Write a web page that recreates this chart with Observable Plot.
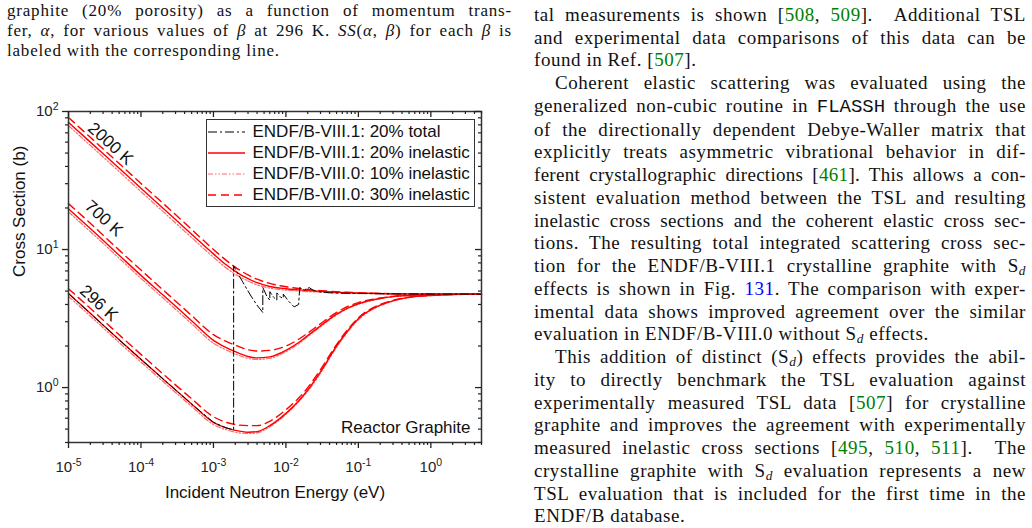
<!DOCTYPE html>
<html><head><meta charset="utf-8">
<script src="https://cdn.jsdelivr.net/npm/d3@7"></script>
<script src="https://cdn.jsdelivr.net/npm/@observablehq/plot@0.6"></script>
<style>
html,body{margin:0;padding:0;background:#fff;}
body{width:1032px;height:528px;overflow:hidden;position:relative;}
.serif{font-family:"Liberation Serif","DejaVu Serif",serif;color:#111;position:absolute;}
.j{text-align:justify;text-align-last:justify;}
.ind{text-indent:21px;}
.cite{color:#008000;}
.ref{color:#0000ff;}
sub{font-size:0.7em;line-height:0;vertical-align:-0.25em;}
.tt{font-family:"Liberation Mono","DejaVu Sans Mono",monospace;letter-spacing:0;}
.tight{letter-spacing:0.3px;}
#chart{position:absolute;left:0;top:75px;width:500px;height:440px;}
#legend{position:absolute;left:206px;top:119px;width:269px;height:88px;box-sizing:border-box;border:1.5px solid #333;background:#fff;font-family:"Liberation Sans",Arial,sans-serif;font-size:17px;color:#111;padding-top:1px;}
.row{height:21px;white-space:nowrap;display:flex;align-items:center;}
.row svg{width:37px;height:10px;margin-left:0.5px;margin-right:8px;flex:none;}
</style></head>
<body>
<div class="serif" style="left:7px;top:1.4px;width:505px;font-size:17px;line-height:20px;letter-spacing:0.8px">
<div class="j">graphite (20% porosity) as a function of momentum trans-</div>
<div class="j">fer, <i>α</i>, for various values of <i>β</i> at 296 K. <i>SS</i>(<i>α</i>, <i>β</i>) for each <i>β</i> is</div>
<div>labeled with the corresponding line.</div>
</div>

<div class="serif" style="left:534px;top:3.9px;width:492px;font-size:19px;line-height:22.75px;letter-spacing:0.55px">
<div class="j">tal measurements is shown [<span class="cite">508</span>, <span class="cite">509</span>]. &nbsp;Additional TSL</div>
<div class="j">and experimental data comparisons of this data can be</div>
<div>found in Ref. [<span class="cite">507</span>].</div>
<div class="j ind">Coherent elastic scattering was evaluated using the</div>
<div class="j">generalized non-cubic routine in <span class="tt">FLASSH</span> through the use</div>
<div class="j">of the directionally dependent Debye-Waller matrix that</div>
<div class="j">explicitly treats asymmetric vibrational behavior in dif-</div>
<div class="j tight">ferent crystallographic directions [<span class="cite">461</span>]. This allows a con-</div>
<div class="j">sistent evaluation method between the TSL and resulting</div>
<div class="j tight">inelastic cross sections and the coherent elastic cross sec-</div>
<div class="j">tions. The resulting total integrated scattering cross sec-</div>
<div class="j">tion for the ENDF/B-VIII.1 crystalline graphite with S<sub><i>d</i></sub></div>
<div class="j">effects is shown in Fig. <span class="ref">131</span>. The comparison with exper-</div>
<div class="j">imental data shows improved agreement over the similar</div>
<div>evaluation in ENDF/B-VIII.0 without S<sub><i>d</i></sub> effects.</div>
<div class="j ind">This addition of distinct (S<sub><i>d</i></sub>) effects provides the abil-</div>
<div class="j">ity to directly benchmark the TSL evaluation against</div>
<div class="j">experimentally measured TSL data [<span class="cite">507</span>] for crystalline</div>
<div class="j">graphite and improves the agreement with experimentally</div>
<div class="j">measured inelastic cross sections [<span class="cite">495</span>, <span class="cite">510</span>, <span class="cite">511</span>]. &nbsp;The</div>
<div class="j">crystalline graphite with S<sub><i>d</i></sub> evaluation represents a new</div>
<div class="j">TSL evaluation that is included for the first time in the</div>
<div>ENDF/B database.</div>
</div>

<div id="chart"></div>
<div id="legend"></div>

<script>
// ---------------- data ----------------
const energy = [1e-5, 2e-5, 5e-5, 1e-4, 2e-4, 5e-4, 1e-3, 1.5e-3, 2e-3, 3e-3, 4e-3, 6e-3, 1e-2, 1.5e-2, 2e-2, 3e-2, 5e-2, 7e-2, 0.1, 0.2, 0.3, 0.5, 1, 2, 5];

const sig296_20 = [4.8, 3.45, 2.22, 1.6, 1.16, 0.76, 0.56, 0.51, 0.49, 0.475, 0.48, 0.53, 0.65, 0.8, 0.96, 1.3, 2.0, 2.55, 3.15, 3.95, 4.25, 4.5, 4.65, 4.72, 4.75];
const sig296_30 = [5.2, 3.75, 2.41, 1.74, 1.26, 0.83, 0.615, 0.56, 0.54, 0.53, 0.53, 0.57, 0.69, 0.84, 1.0, 1.35, 2.05, 2.6, 3.2, 4.0, 4.28, 4.52, 4.66, 4.72, 4.75];
const sig296_10 = [4.58, 3.3, 2.12, 1.53, 1.11, 0.73, 0.54, 0.495, 0.475, 0.465, 0.47, 0.52, 0.64, 0.79, 0.94, 1.27, 1.96, 2.5, 3.1, 3.92, 4.23, 4.49, 4.64, 4.72, 4.75];

const sig700_20 = [19.7, 14.2, 9.1, 6.5, 4.7, 3.05, 2.2, 1.95, 1.82, 1.68, 1.64, 1.67, 1.86, 2.12, 2.38, 2.8, 3.4, 3.75, 4.05, 4.42, 4.56, 4.65, 4.71, 4.74, 4.75];
const sig700_30 = [21.5, 15.5, 9.9, 7.1, 5.12, 3.33, 2.42, 2.16, 2.03, 1.88, 1.84, 1.86, 2.0, 2.24, 2.48, 2.9, 3.5, 3.85, 4.12, 4.46, 4.58, 4.67, 4.72, 4.74, 4.75];
const sig700_10 = [18.7, 13.5, 8.65, 6.18, 4.47, 2.9, 2.1, 1.87, 1.75, 1.63, 1.6, 1.63, 1.82, 2.08, 2.34, 2.76, 3.36, 3.72, 4.02, 4.4, 4.55, 4.64, 4.7, 4.74, 4.75];

const sig2000_20 = [83.5, 60, 38.8, 27.8, 20.0, 12.9, 9.3, 7.75, 6.95, 6.15, 5.75, 5.4, 5.2, 5.1, 5.04, 4.98, 4.91, 4.87, 4.84, 4.8, 4.78, 4.77, 4.76, 4.75, 4.75];
const sig2000_30 = [90.5, 65, 42, 30.1, 21.7, 14.0, 10.0, 8.35, 7.45, 6.55, 6.1, 5.68, 5.38, 5.22, 5.13, 5.04, 4.95, 4.9, 4.86, 4.81, 4.79, 4.77, 4.76, 4.75, 4.75];
const sig2000_10 = [79, 56.8, 36.7, 26.3, 18.9, 12.2, 8.8, 7.35, 6.62, 5.92, 5.55, 5.25, 5.08, 5.0, 4.96, 4.92, 4.87, 4.85, 4.82, 4.79, 4.77, 4.76, 4.75, 4.75, 4.75];

const totalEnergy = [1e-5, 2e-5, 5e-5, 1e-4, 2e-4, 5e-4, 1e-3, 1.5e-3, 1.9e-3, 1.9e-3, 2.5e-3, 3.3e-3, 4.0e-3, 4.8e-3, 4.8e-3, 5.5e-3, 6.0e-3, 6.0e-3, 6.8e-3, 7.5e-3, 7.5e-3, 8.5e-3, 9.2e-3, 9.2e-3, 1.1e-2, 1.3e-2, 1.5e-2, 1.55e-2, 1.8e-2, 2.1e-2, 2.4e-2, 2.8e-2, 3.5e-2, 5e-2, 0.1, 0.3, 1, 5];
const totalSigma = [4.8, 3.45, 2.22, 1.6, 1.16, 0.76, 0.56, 0.51, 0.495, 7.6, 5.9, 4.6, 3.95, 3.5, 5.3, 4.55, 4.3, 4.95, 4.5, 4.3, 4.85, 4.5, 4.45, 4.75, 4.2, 3.84, 4.0, 5.3, 5.1, 5.3, 5.05, 4.95, 4.88, 4.83, 4.8, 4.77, 4.76, 4.75];

const tempLabels = ["2000 K", "700 K", "296 K"];
const tempLabelE = [3.8e-5, 3.07e-5, 2.62e-5];
const tempLabelS = [58.5, 16.8, 4.09];

const legendLabels = ["ENDF/B-VIII.1: 20% total", "ENDF/B-VIII.1: 20% inelastic", "ENDF/B-VIII.0: 10% inelastic", "ENDF/B-VIII.0: 30% inelastic"];

const xTicks = [1e-5, 1e-4, 1e-3, 1e-2, 1e-1, 1];
const yTicks = [1, 10, 100];
const xMinor = [];
for (let d = -5; d <= 0; d++) for (let m = 2; m <= 9; m++) { const v = m * Math.pow(10, d); if (v <= 5) xMinor.push(v); }
const yMinor = [];
for (let d = -1; d <= 1; d++) for (let m = 2; m <= 9; m++) { const v = m * Math.pow(10, d); if (v >= 0.4 && v < 100) yMinor.push(v); }

// ---------------- styles ----------------
const stTotal = {stroke: "#000", strokeWidth: 1, strokeDasharray: "9,3,2,3"};
const st20 = {stroke: "#ff0000", strokeWidth: 1.4};
const st10 = {stroke: "#ff6b6b", strokeWidth: 1.2, strokeDasharray: "5,2,1.5,2,1.5,2"};
const st30 = {stroke: "#ff0000", strokeWidth: 1.4, strokeDasharray: "8,5"};
const legendStyles = [stTotal, st20, st10, st30];

const fmt = d => "10^" + Math.round(Math.log10(d));
const blank = () => "";
const line = (ys, st) => Plot.line(energy, {x: energy, y: ys, curve: "monotone-x", ...st});

const chart = Plot.plot({
  width: 500, height: 440,
  marginLeft: 68, marginRight: 19, marginTop: 36, marginBottom: 73,
  x: {type: "log", domain: [1e-5, 5], label: null},
  y: {type: "log", domain: [0.4, 100], label: null},
  style: {fontFamily: "'Liberation Sans', Arial, sans-serif", fontSize: "15px", color: "#222", background: "none", overflow: "visible"},
  marks: [
    line(sig296_10, st10), line(sig700_10, st10), line(sig2000_10, st10),
    line(sig296_30, st30), line(sig700_30, st30), line(sig2000_30, st30),
    line(sig296_20, st20), line(sig700_20, st20), line(sig2000_20, st20),
    Plot.line(totalEnergy, {x: totalEnergy, y: totalSigma, curve: "linear", ...stTotal}),
    Plot.frame({stroke: "#333", strokeWidth: 1.5}),
    Plot.axisX(xTicks, {anchor: "bottom", tickSize: 6, tickPadding: 13, tickFormat: fmt, fontSize: 15, label: null, strokeWidth: 1.3}),
    Plot.axisX(xMinor, {anchor: "bottom", tickSize: 3, tickFormat: blank, label: null, strokeWidth: 1.2}),
    Plot.axisX(xTicks, {anchor: "bottom", frameAnchor: "top", tickSize: 6, tickFormat: blank, label: null, strokeWidth: 1.3}),
    Plot.axisX(xMinor, {anchor: "bottom", frameAnchor: "top", tickSize: 3, tickFormat: blank, label: null, strokeWidth: 1.2}),
    Plot.axisY(yTicks, {anchor: "left", tickSize: 6, tickPadding: 4, tickFormat: fmt, fontSize: 15, label: null, strokeWidth: 1.3}),
    Plot.axisY(yMinor, {anchor: "left", tickSize: 3, tickFormat: blank, label: null, strokeWidth: 1.2}),
    Plot.axisY(yTicks, {anchor: "left", frameAnchor: "right", tickSize: 6, tickFormat: blank, label: null, strokeWidth: 1.3}),
    Plot.axisY(yMinor, {anchor: "left", frameAnchor: "right", tickSize: 3, tickFormat: blank, label: null, strokeWidth: 1.2}),
    Plot.text(tempLabels, {x: tempLabelE, y: tempLabelS, text: d => d, rotate: 42, fontSize: 17, fill: "#111"}),
    Plot.text(["Reactor Graphite"], {frameAnchor: "bottom-right", text: d => d, textAnchor: "end", lineAnchor: "bottom", dx: -11, dy: -10, fontSize: 17, fill: "#111"}),
    Plot.text(["Cross Section (b)"], {frameAnchor: "left", text: d => d, rotate: -90, dx: -49, fontSize: 17, fill: "#111"}),
    Plot.text(["Incident Neutron Energy (eV)"], {frameAnchor: "bottom", text: d => d, dy: 55, fontSize: 17, fill: "#111"})
  ]
});

// superscript exponents in tick labels
chart.querySelectorAll("text").forEach(t => {
  const m = t.textContent.match(/^10\^(-?\d+)$/);
  if (!m) return;
  t.textContent = "10";
  const ts = document.createElementNS("http://www.w3.org/2000/svg", "tspan");
  ts.setAttribute("dy", "-6");
  ts.setAttribute("style", "font-size:10.5px");
  ts.textContent = m[1];
  t.appendChild(ts);
});
document.getElementById("chart").appendChild(chart);

// legend (inside plot area, HTML overlay)
const lg = document.getElementById("legend");
legendLabels.forEach((lab, i) => {
  const st = legendStyles[i];
  const row = document.createElement("div");
  row.className = "row";
  row.innerHTML = `<svg viewBox="0 0 37 10"><line x1="0" x2="37" y1="5" y2="5" stroke="${st.stroke}" stroke-width="${st.strokeWidth}" ${st.strokeDasharray ? `stroke-dasharray="${st.strokeDasharray}"` : ""}/></svg><span>${lab}</span>`;
  lg.appendChild(row);
});
</script>
</body></html>
